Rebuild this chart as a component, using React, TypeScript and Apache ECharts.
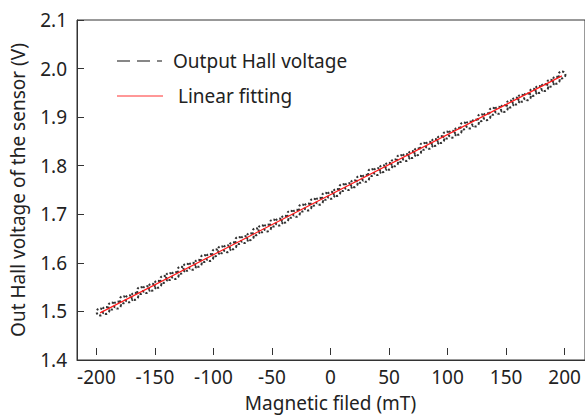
import React, { useEffect, useRef } from "react";
import * as echarts from "echarts";

const fieldValues: number[] = [
  -200, -195, -190, -185, -180, -175, -170, -165, -160, -155, -150, -145, -140, -135, -130, -125, -120, -115, -110, -105,
  -100, -95, -90, -85, -80, -75, -70, -65, -60, -55, -50, -45, -40, -35, -30, -25, -20, -15, -10, -5,
  0, 5, 10, 15, 20, 25, 30, 35, 40, 45, 50, 55, 60, 65, 70, 75, 80, 85, 90, 95,
  100, 105, 110, 115, 120, 125, 130, 135, 140, 145, 150, 155, 160, 165, 170, 175, 180, 185, 190, 195, 200,
];

const hallVoltage: number[] = [
  1.499, 1.502, 1.511, 1.513, 1.524, 1.526, 1.531, 1.543, 1.545, 1.55, 1.556, 1.566, 1.572, 1.574, 1.585, 1.591, 1.593, 1.599, 1.609, 1.611,
  1.621, 1.627, 1.629, 1.635, 1.646, 1.648, 1.654, 1.664, 1.67, 1.672, 1.682, 1.684, 1.69, 1.7, 1.702, 1.713, 1.715, 1.725, 1.727, 1.737,
  1.739, 1.745, 1.755, 1.757, 1.763, 1.772, 1.774, 1.786, 1.788, 1.794, 1.799, 1.806, 1.815, 1.817, 1.823, 1.829, 1.84, 1.842, 1.848, 1.854,
  1.863, 1.865, 1.871, 1.882, 1.884, 1.888, 1.899, 1.901, 1.912, 1.914, 1.918, 1.927, 1.933, 1.939, 1.942, 1.951, 1.957, 1.961, 1.97, 1.976, 1.987,
];

const fitField: number[] = [-200, 200];
const fitVoltage: number[] = [1.497, 1.985];

const legendNames: string[] = ["Output Hall voltage", "Linear fitting"];
const xAxisName = "Magnetic filed (mT)";
const yAxisName = "Out Hall voltage of the sensor (V)";

const FONT = "'Noto Sans', sans-serif";
const TEXT = "#222";
const FS = 19;

export default function App() {
  const ref = useRef<HTMLDivElement>(null);
  useEffect(() => {
    if (!ref.current) return;
    const chart = echarts.init(ref.current, undefined, { renderer: "svg" });
    chart.setOption({
      animation: false,
      backgroundColor: "#fff",
      textStyle: { fontFamily: FONT },
      grid: [
        {
          left: 73,
          top: 20,
          bottom: 57,
          right: -3,
          show: true,
          borderColor: "#333",
          borderWidth: 1,
        },
        {
          left: 96.4,
          top: 20,
          bottom: 57,
          right: 20.4,
          show: false,
        },
      ],
      xAxis: [
        {
          type: "value",
          gridIndex: 0,
          min: -220,
          max: 220,
          splitLine: { show: false },
          axisLine: { show: true, onZero: false, lineStyle: { color: "#333", width: 1 } },
          axisTick: { show: false },
          axisLabel: { show: false },
        },
        {
          type: "value",
          gridIndex: 1,
          min: -200,
          max: 200,
          interval: 50,
          name: xAxisName,
          nameLocation: "middle",
          nameGap: 38,
          nameTextStyle: { fontSize: FS, color: TEXT, fontFamily: FONT },
          splitLine: { show: false },
          axisLine: { show: false, onZero: false },
          axisTick: { show: true, inside: true, length: 7, lineStyle: { color: "#333" } },
          axisLabel: { fontSize: FS, color: TEXT, fontFamily: FONT, margin: 12 },
        },
      ],
      yAxis: [
        {
          type: "value",
          gridIndex: 0,
          min: 1.4,
          max: 2.1,
          interval: 0.1,
          name: yAxisName,
          nameLocation: "middle",
          nameGap: 50,
          nameTextStyle: { fontSize: FS, color: TEXT, fontFamily: FONT },
          splitLine: { show: false },
          axisLine: { show: true, onZero: false, lineStyle: { color: "#333", width: 1 } },
          axisTick: { show: true, inside: true, length: 7, lineStyle: { color: "#333" } },
          axisLabel: {
            fontSize: FS,
            color: TEXT,
            fontFamily: FONT,
            margin: 10,
            formatter: (v: number) => v.toFixed(1),
          },
        },
        {
          type: "value",
          gridIndex: 1,
          min: 1.4,
          max: 2.1,
          show: false,
        },
      ],
      series: [
        {
          name: legendNames[0],
          type: "line",
          xAxisIndex: 0,
          yAxisIndex: 0,
          data: fieldValues.map((x, i) => [x, hallVoltage[i]]),
          symbol: "emptyCircle",
          symbolSize: 7,
          showSymbol: true,
          lineStyle: { color: "#444", width: 0.6, type: "dashed", opacity: 0.6 },
          itemStyle: { color: "#333", borderColor: "#333", borderWidth: 0.8, borderType: [2, 2] },
          z: 2,
        },
        {
          name: legendNames[1],
          type: "line",
          xAxisIndex: 0,
          yAxisIndex: 0,
          data: fitField.map((x, i) => [x, fitVoltage[i]]),
          symbol: "none",
          lineStyle: { color: "#ff1a1a", width: 1.2 },
          z: 3,
        },
      ],
      graphic: [
        {
          type: "line",
          shape: { x1: 117, y1: 61, x2: 162, y2: 61 },
          style: { stroke: "#111", lineWidth: 1.2, lineDash: [13, 7] },
        },
        {
          type: "text",
          x: 173,
          y: 61,
          style: { text: legendNames[0], fontSize: FS, fill: TEXT, fontFamily: FONT, verticalAlign: "middle" },
        },
        {
          type: "line",
          shape: { x1: 117, y1: 96, x2: 163, y2: 96 },
          style: { stroke: "#ff3030", lineWidth: 1 },
        },
        {
          type: "text",
          x: 178,
          y: 96,
          style: { text: legendNames[1], fontSize: FS, fill: TEXT, fontFamily: FONT, verticalAlign: "middle" },
        },
      ],
    });
    return () => chart.dispose();
  }, []);
  return <div ref={ref} style={{ width: 585, height: 417, position: "absolute", left: 0, top: 0 }} />;
}
